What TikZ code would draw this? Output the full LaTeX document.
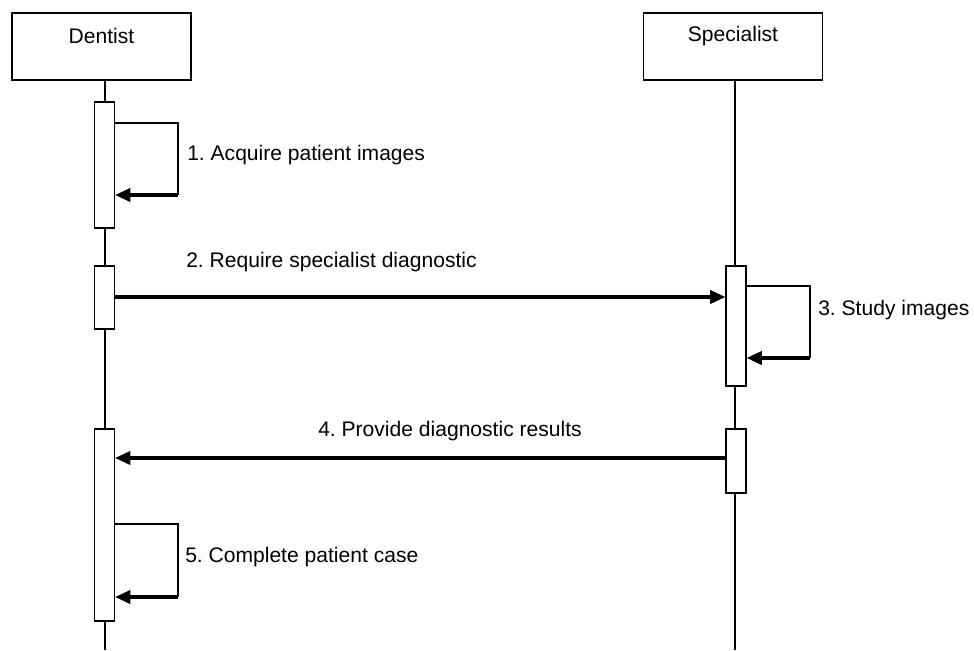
\documentclass[tikz,border=0pt]{standalone}
\usepackage{fontspec}
\setmainfont{Liberation Sans}
\usetikzlibrary{arrows.meta}
\frenchspacing
\begin{document}
\begin{tikzpicture}[x=0.75pt,y=-0.75pt,
  actor/.style={draw,line width=1.25pt,fill=white,minimum width=134.25pt,minimum height=50.25pt,inner sep=0pt},
  lbl/.style={font=\fontsize{15.8}{18}\selectfont,inner sep=0pt,anchor=west},
  bar/.style={draw,line width=0.9pt,fill=white,minimum width=15pt,inner sep=0pt},
  life/.style={line width=1pt},
  msg/.style={line width=2.3pt,-{Triangle[length=11.5pt,width=10pt]}},
  loopl/.style={line width=1.6pt},
]
\useasboundingbox (0,0) rectangle (974,650);
% actors
\node[actor] (dentist) at (101.5,46.5) {};
\node[actor] (spec) at (733,46.5) {};
\node[lbl,anchor=center] (dname) at (101.5,36) {Dentist};
\node[lbl,anchor=center] (sname) at (733,36) {Specialist};
% lifelines
\coordinate (dend) at (105,650);
\coordinate (send) at (735,650);
\draw[life] (dentist.south -| dend) -- (dend);
\draw[life] (spec.south -| send) -- (send);
% activation bars
\node[bar,minimum height=94.5pt] (d1) at (104.5,165) {};
\node[bar,minimum height=47.25pt] (d2) at (104.5,297.5) {};
\node[bar,minimum height=144pt] (d3) at (104.5,525) {};
\node[bar,minimum height=90pt] (s1) at (736,326) {};
\node[bar,minimum height=48pt] (s2) at (736,461) {};
% 1. self loop
\coordinate (l1a) at (178,123);
\coordinate (l1b) at (178,195);
\draw[loopl] (d1.east |- l1a) -- (l1a) -- (l1b);
\draw[msg] (l1b) -- (d1.east |- l1b);
\node[lbl] (t1) at (187,155) {1. Acquire patient images};
% 2. message
\coordinate (m2) at (0,297);
\draw[msg] (d2.east |- m2) -- (s1.west |- m2);
\node[lbl] (t2) at (186,262) {2. Require specialist diagnostic};
% 3. self loop
\coordinate (l3a) at (810,286);
\coordinate (l3b) at (810,358);
\draw[loopl] (s1.east |- l3a) -- (l3a) -- (l3b);
\draw[msg] (l3b) -- (s1.east |- l3b);
\node[lbl] (t3) at (818,310) {3. Study images};
% 4. message
\coordinate (m4) at (0,458);
\draw[msg] (s2.west |- m4) -- (d3.east |- m4);
\node[lbl] (t4) at (318,431) {4. Provide diagnostic results};
% 5. self loop
\coordinate (l5a) at (178,524);
\coordinate (l5b) at (178,597);
\draw[loopl] (d3.east |- l5a) -- (l5a) -- (l5b);
\draw[msg] (l5b) -- (d3.east |- l5b);
\node[lbl] (t5) at (185,557) {5. Complete patient case};
\end{tikzpicture}
\end{document}
